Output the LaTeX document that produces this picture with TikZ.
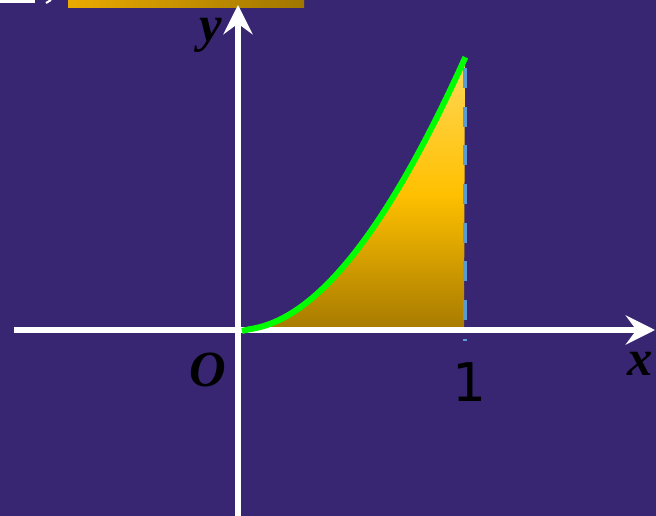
\documentclass[tikz,border=0pt]{standalone}
\usepackage{fontspec}
\setmainfont{Liberation Serif}
\newfontfamily\digitfont{DejaVu Sans}
\definecolor{bgpurple}{RGB}{56,38,115}
\definecolor{goldtop}{RGB}{255,216,90}
\definecolor{goldmid}{RGB}{255,192,0}
\definecolor{goldbot}{RGB}{166,122,0}
\definecolor{barleft}{RGB}{234,170,0}
\definecolor{barright}{RGB}{160,118,0}
\definecolor{dashblue}{RGB}{91,155,213}
\definecolor{curvegreen}{RGB}{0,255,0}
\usetikzlibrary{arrows.meta}
\tikzset{
  axis/.style={white,line width=4.5,-{Stealth[length=22,width=22,inset=8]}},
  lbl/.style={inner sep=0pt,anchor=base,font=\fontsize{38}{38}\selectfont\bfseries\itshape},
}
\begin{document}
\begin{tikzpicture}[x=0.75pt,y=-0.75pt]
\fill[bgpurple] (0,0) rectangle (656,516);
\useasboundingbox (0,0) rectangle (656,516);
% top fragments
\fill[white] (0,0) rectangle (35,3);
\draw[white,line width=1.5] (46,3) -- (51,0);
\shade[left color=barleft,right color=barright] (68,0) rectangle (304,8);
% shaded area under the curve
\shade[top color=goldtop,bottom color=goldbot,middle color=goldmid]
  (243,330) -- plot[domain=0.03:1,samples=60,smooth] ({238+227*\x},{330-272*\x*\x*(1+0.15*(1-\x))}) -- (464,330) -- cycle;
% axes
\coordinate (xs) at (14,330);
\coordinate (xe) at (655,330);
\coordinate (ys) at (238,516);
\coordinate (ye) at (238,5);
\draw[axis] (xs) -- (xe);
\draw[axis] (ys) -- (ye);
% dashed line
\coordinate (D1) at (465,68);
\coordinate (D2) at (465,341);
\draw[dashblue,line width=2.5,dash pattern=on 15 off 14] (D1) -- (D2);
% curve
\draw[curvegreen,line width=4.5] (242,331) -- plot[domain=0.05:1.002,samples=60,smooth] ({238+227*\x},{330-272*\x*\x*(1+0.15*(1-\x))});
% labels
\node[lbl] (ylab) at (211,42) {y};
\node[lbl] (xlab) at (640,375) {x};
\node[lbl] (olab) at (208,386) {O};
\node[inner sep=0pt,anchor=base,font=\digitfont\fontsize{40}{40}\selectfont] (one) at (469,401) {1};
\end{tikzpicture}
\end{document}
